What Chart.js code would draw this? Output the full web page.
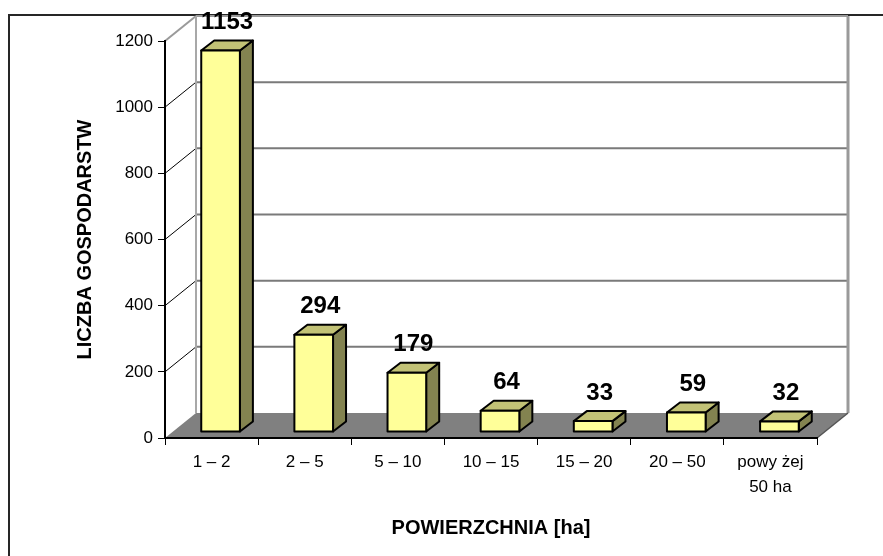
<!DOCTYPE html>
<html>
<head>
<meta charset="utf-8">
<script src="https://cdn.jsdelivr.net/npm/chart.js@4/dist/chart.umd.min.js"></script>
<style>
  html, body { margin: 0; padding: 0; background: #fff; }
  canvas { display: block; }
</style>
</head>
<body>
<canvas id="c" width="883" height="556"></canvas>
<script>
// ---- data ----
const categories = ['1 – 2', '2 – 5', '5 – 10', '10 – 15', '15 – 20', '20 – 50', ['powy żej', '50 ha']];
const farmCounts = [1153, 294, 179, 64, 33, 59, 32];
const yTicks = [0, 200, 400, 600, 800, 1000, 1200];
const yTitle = 'LICZBA GOSPODARSTW';
const xTitle = 'POWIERZCHNIA [ha]';

// ---- 3D look ----
const WALL_DX = 31, WALL_DY = -25;   // depth of the back wall / floor
const BAR_DX = 9, BAR_DY = -6;       // bar front plane inside floor
const BOX_DX = 13, BOX_DY = -10;     // bar depth
const FRONT = '#FFFF99', TOP = '#C2C276', SIDE = '#838350';

const FONT = "'Liberation Sans', Arial, sans-serif";
Chart.defaults.font.family = FONT;
Chart.defaults.color = '#000';

function poly(ctx, pts, fill, stroke, lw) {
  ctx.beginPath();
  ctx.moveTo(pts[0][0], pts[0][1]);
  for (let i = 1; i < pts.length; i++) ctx.lineTo(pts[i][0], pts[i][1]);
  ctx.closePath();
  if (fill) { ctx.fillStyle = fill; ctx.fill(); }
  if (stroke) { ctx.strokeStyle = stroke; ctx.lineWidth = lw; ctx.lineJoin = 'round'; ctx.stroke(); }
}
function line(ctx, x1, y1, x2, y2, color, lw) {
  ctx.beginPath(); ctx.moveTo(x1, y1); ctx.lineTo(x2, y2);
  ctx.strokeStyle = color; ctx.lineWidth = lw; ctx.stroke();
}

const walls3d = {
  id: 'walls3d',
  beforeDraw(chart) {
    const ctx = chart.ctx;
    const ys = chart.scales.y, xs = chart.scales.x;
    const L = xs.left, R = xs.right, T = ys.top, B = ys.bottom;
    ctx.save();
    ctx.fillStyle = '#fff';
    ctx.fillRect(0, 0, chart.width, chart.height);
    // outer frame
    ctx.strokeStyle = '#262626'; ctx.lineWidth = 2;
    ctx.strokeRect(9, 15, chart.width + 20, chart.height + 20);
    // back wall gridlines + side wall diagonals
    yTicks.forEach(v => {
      const y = ys.getPixelForValue(v);
      if (v > 0) line(ctx, L + WALL_DX, y + WALL_DY, R + WALL_DX, y + WALL_DY, v === 1200 ? '#9a9a9a' : '#7a7a7a', 2);
      if (v > 0 && v < 1200) line(ctx, L, y, L + WALL_DX, y + WALL_DY, '#000', 1);
    });
    // wall edges
    line(ctx, L, T, L + WALL_DX, T + WALL_DY, '#9a9a9a', 2);
    line(ctx, L + WALL_DX, T + WALL_DY, L + WALL_DX, B + WALL_DY, '#a8a8a8', 2);
    line(ctx, R + WALL_DX, T + WALL_DY, R + WALL_DX, B + WALL_DY, '#9a9a9a', 3);
    // floor
    poly(ctx, [[L, B], [R, B], [R + WALL_DX, B + WALL_DY], [L + WALL_DX, B + WALL_DY]], '#808080', null, 0);
    line(ctx, R, B, R + WALL_DX, B + WALL_DY, '#555', 1.5);
    ctx.restore();
  },
  afterDatasetsDraw(chart) {
    const ctx = chart.ctx;
    const meta = chart.getDatasetMeta(0);
    ctx.save();
    meta.data.forEach((bar, i) => {
      const p = bar.getProps(['x', 'y', 'base', 'width'], true);
      const l = p.x - p.width / 2 + BAR_DX, r = p.x + p.width / 2 + BAR_DX;
      const t = p.y + BAR_DY, b = p.base + BAR_DY;
      // side
      poly(ctx, [[r, t], [r + BOX_DX, t + BOX_DY], [r + BOX_DX, b + BOX_DY], [r, b]], SIDE, '#000', 2);
      // top
      poly(ctx, [[l, t], [l + BOX_DX, t + BOX_DY], [r + BOX_DX, t + BOX_DY], [r, t]], TOP, '#000', 2);
      // front
      poly(ctx, [[l, t], [r, t], [r, b], [l, b]], FRONT, '#000', 2);
      // value label
      ctx.fillStyle = '#000';
      ctx.font = 'bold 24px ' + FONT;
      ctx.textAlign = 'center';
      ctx.textBaseline = 'middle';
      ctx.fillText(String(farmCounts[i]), (l + r) / 2 + BOX_DX / 2, t + BOX_DY - 18);
    });
    ctx.restore();
  }
};

new Chart(document.getElementById('c'), {
  type: 'bar',
  data: {
    labels: categories,
    datasets: [{
      data: farmCounts,
      backgroundColor: 'rgba(0,0,0,0)',
      borderWidth: 0,
      categoryPercentage: 1,
      barPercentage: 0.415
    }]
  },
  options: {
    responsive: false,
    animation: false,
    events: [],
    layout: { padding: { left: 0, top: 41, right: 66, bottom: 0 } },
    plugins: { legend: { display: false }, tooltip: { enabled: false } },
    scales: {
      x: {
        grid: { drawOnChartArea: false, drawTicks: true, tickLength: 7, color: '#000', offset: true },
        border: { display: true, color: '#000', width: 2 },
        ticks: { font: { size: 17, lineHeight: '25px' }, padding: 5, color: '#000', maxRotation: 0, autoSkip: false },
        title: { display: true, text: xTitle, font: { size: 20, weight: 'bold' }, padding: { top: 0, bottom: 16 }, color: '#000' },
        afterFit(scale) { scale.height = 118; }
      },
      y: {
        min: 0, max: 1200,
        afterBuildTicks(scale) { scale.ticks = yTicks.map(v => ({ value: v })); },
        grid: { drawOnChartArea: false, drawTicks: true, tickLength: 7, color: '#000' },
        border: { display: true, color: '#000', width: 2 },
        ticks: { font: { size: 17 }, padding: 5, color: '#000', callback: v => String(v) },
        title: { display: true, text: yTitle, font: { size: 20, weight: 'bold' }, padding: { top: 73, bottom: 0 }, color: '#000' },
        afterFit(scale) { scale.width = 165; }
      }
    }
  },
  plugins: [walls3d]
});
</script>
</body>
</html>
